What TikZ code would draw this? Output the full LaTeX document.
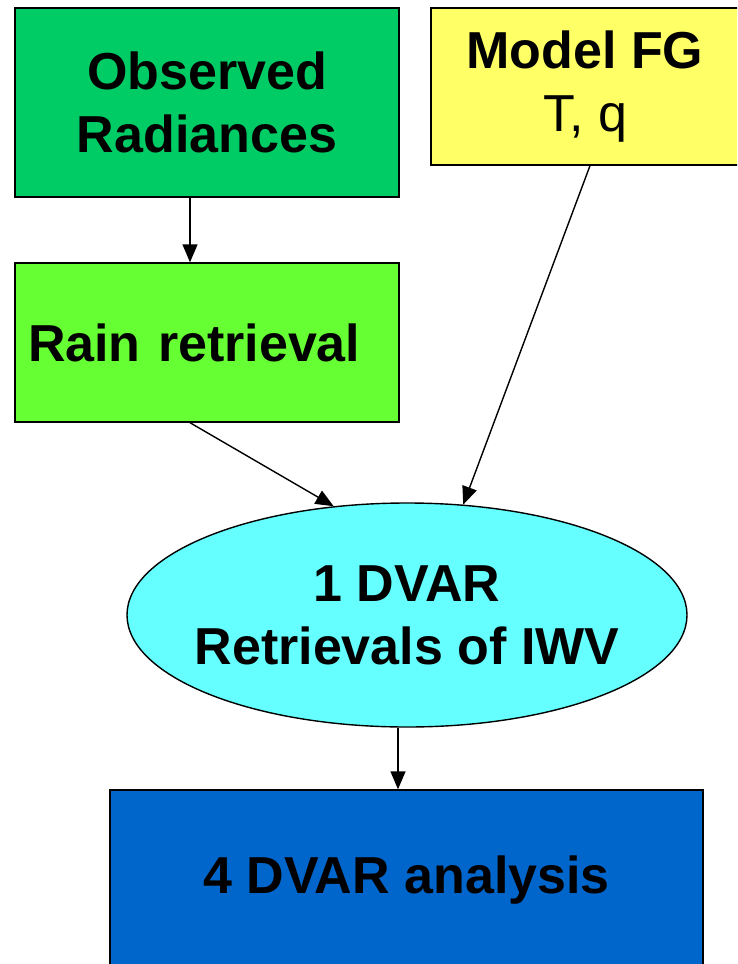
\documentclass[tikz,border=0pt]{standalone}
\usepackage{fontspec}
\setmainfont{Liberation Sans}
\usetikzlibrary{arrows.meta,shapes.geometric}
\definecolor{obsgreen}{RGB}{0,204,102}
\definecolor{modelyellow}{RGB}{255,255,102}
\definecolor{raingreen}{RGB}{102,255,51}
\definecolor{ellcyan}{RGB}{102,255,255}
\definecolor{finalblue}{RGB}{0,102,204}
\tikzset{
  box/.style={draw=black, line width=1.4pt, rectangle, inner sep=0pt, align=center,
    font=\fontsize{52}{63}\selectfont},
  arr/.style={draw=black, line width=1.4pt, -{Triangle[length=18pt,width=15pt]}},
}
\begin{document}
\begin{tikzpicture}[x=1pt,y=1pt]
\useasboundingbox (0,0) rectangle (737,-964);
\fill[white] (0,0) rectangle (737,-964);
\clip (0,0) rectangle (737,-964);
\node[box, fill=obsgreen, minimum width=384pt, minimum height=189pt] (obs) at (207,-102.5)
  {\bfseries Observed\\\bfseries Radiances};
\node[box, fill=modelyellow, minimum width=308pt, minimum height=157pt] (model) at (585,-86.5)
  {\bfseries Model FG\\T, q};
\node[box, fill=raingreen, minimum height=159pt, text width=358pt, align=left, inner xsep=13pt] (rain) at (207,-342.5)
  {\bfseries Rain retrieval};
\node[box, ellipse, fill=ellcyan, minimum width=560pt, minimum height=224pt] (ell) at (407,-615) {};
\node[align=center, inner sep=0pt, font=\fontsize{52}{63}\selectfont] (elltext) at (ell.center)
  {\bfseries 1 DVAR\\\bfseries Retrievals of IWV};
\node[box, fill=finalblue, minimum width=593pt, minimum height=180pt] (final) at (406.5,-880)
  {\bfseries 4 DVAR analysis};
\draw[arr] ([xshift=-17pt]obs.south) -- ([xshift=-17pt]rain.north);
\draw[arr] ([xshift=-17pt]rain.south) -- (ell.124);
\draw[arr] ([xshift=5pt]model.south) -- (ell.63);
\draw[arr] ([xshift=-9pt]ell.south) -- ([xshift=-8.5pt]final.north);
\end{tikzpicture}
\end{document}
